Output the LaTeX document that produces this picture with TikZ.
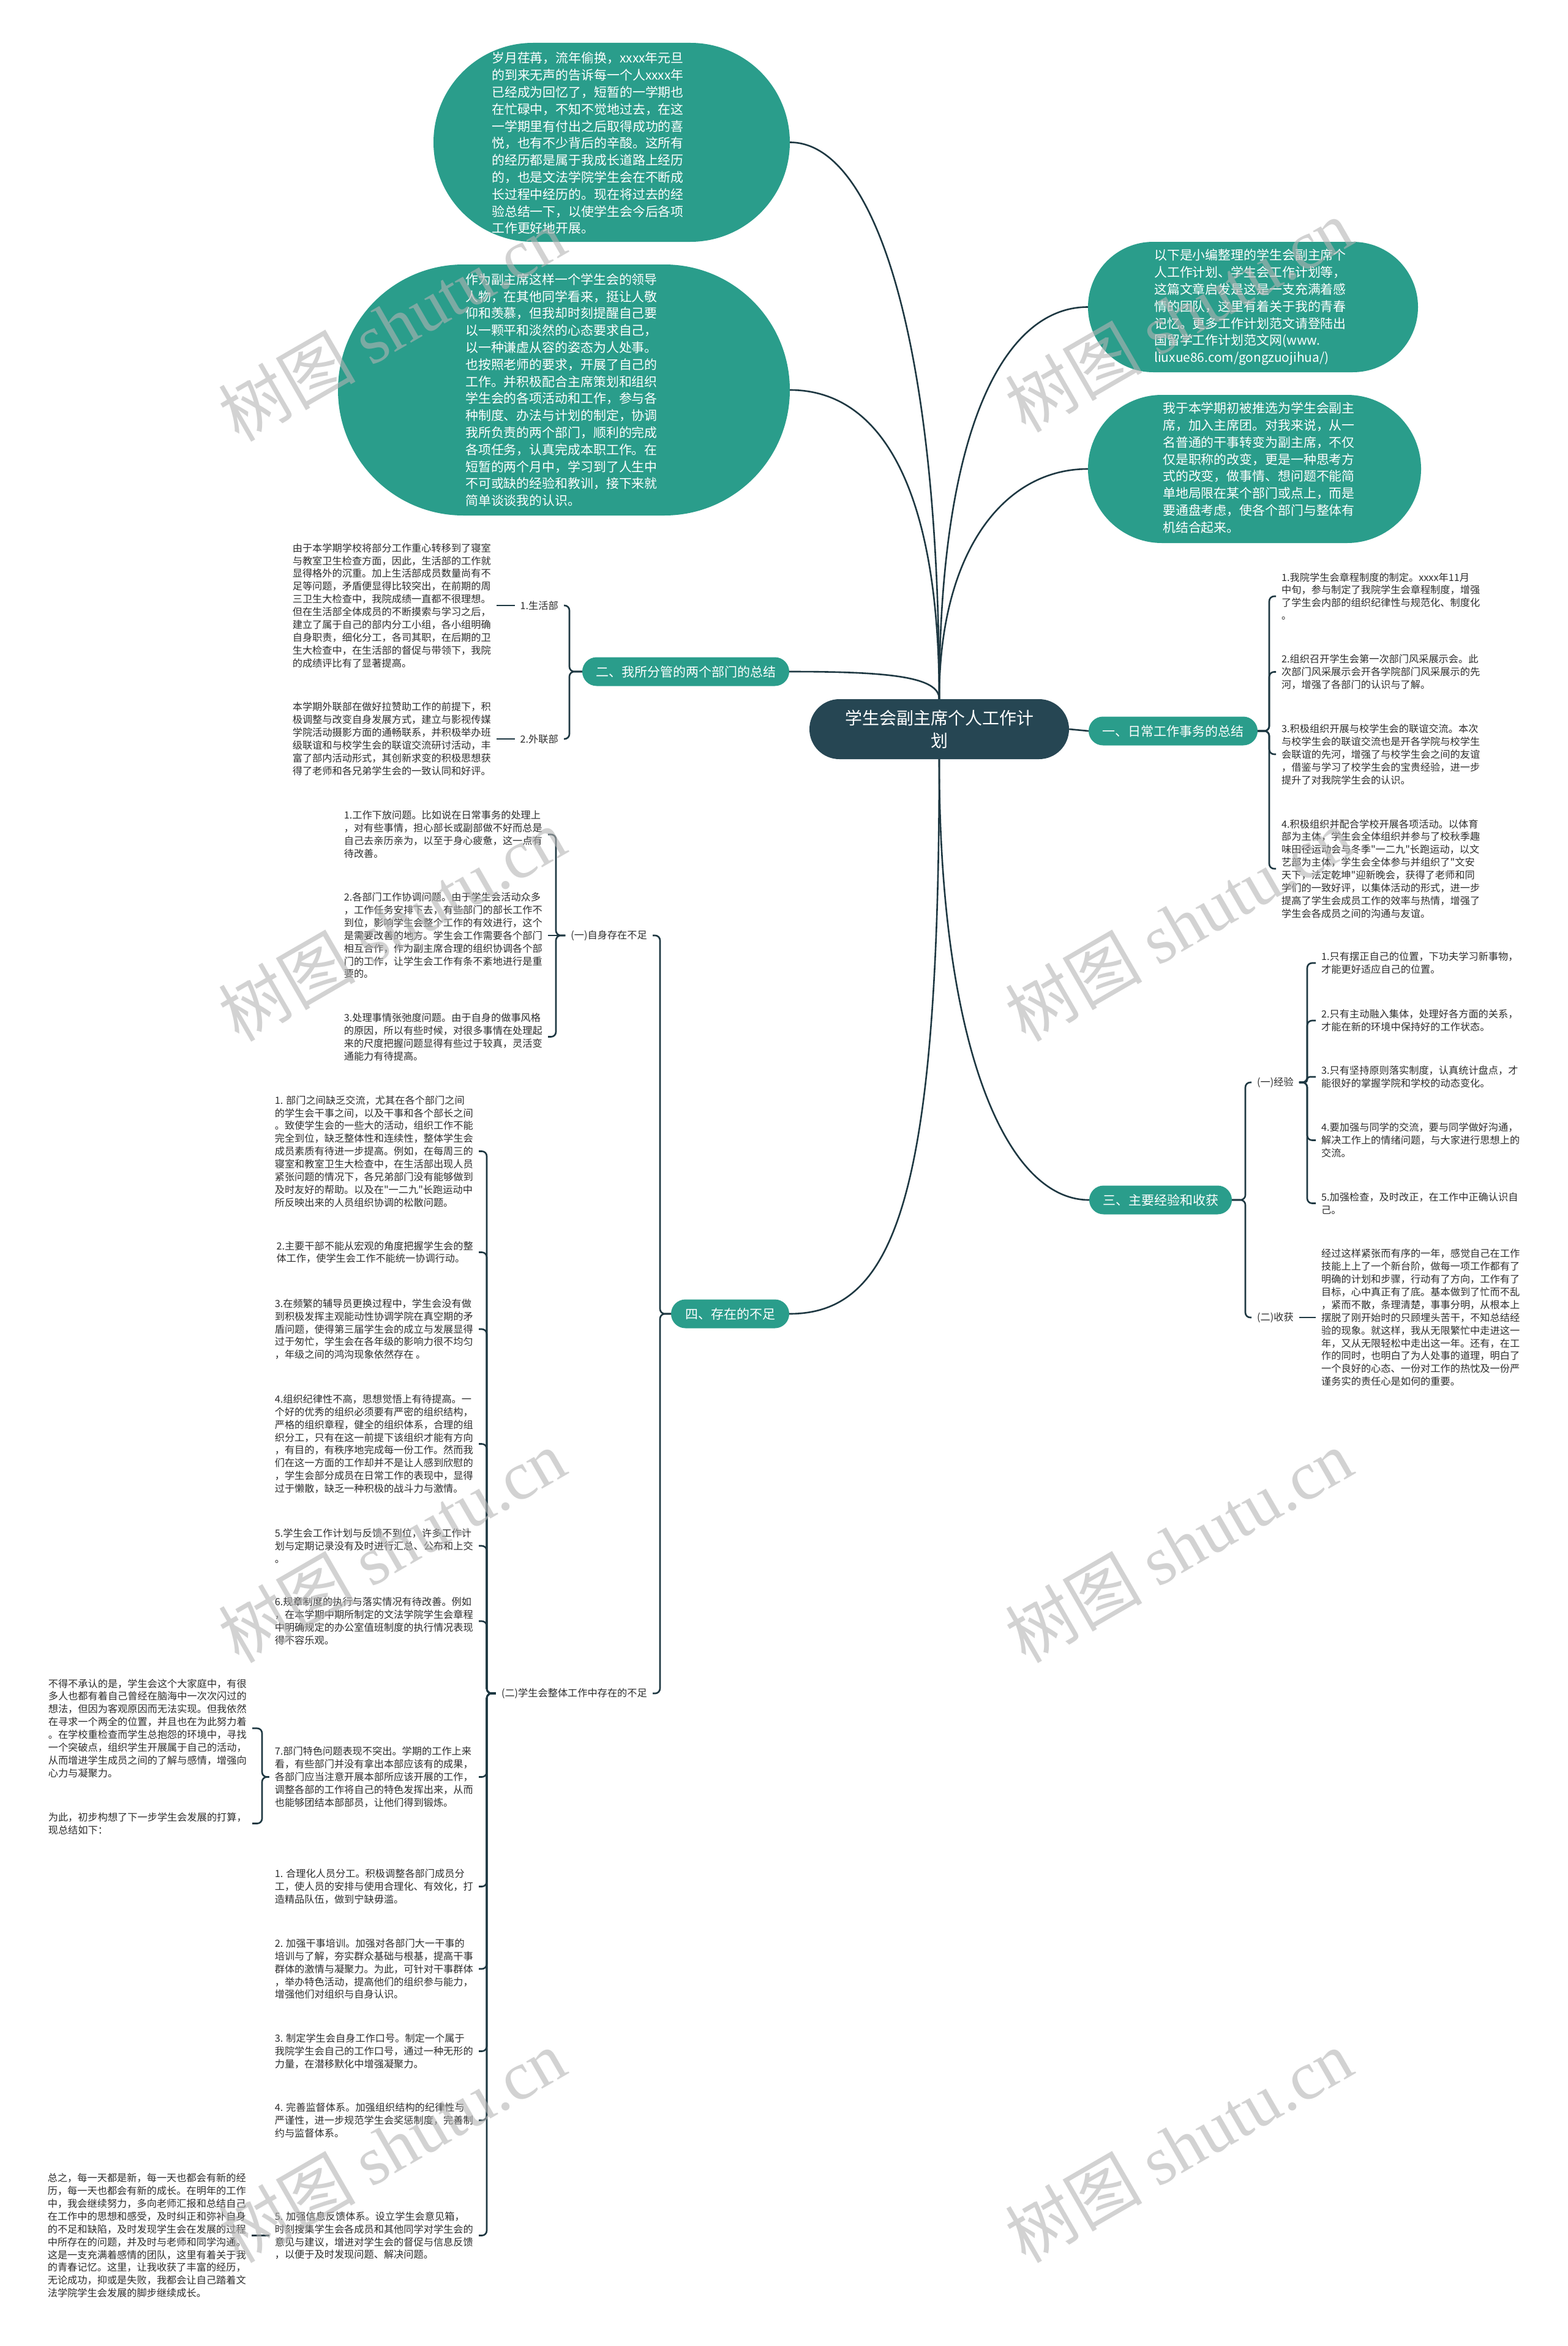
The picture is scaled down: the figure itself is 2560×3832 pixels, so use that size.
\documentclass[tikz,border=0pt]{standalone}
\usepackage{fontspec}
\newfontfamily\cjk{Noto Sans CJK SC}
\newfontfamily\wmserif{Liberation Serif}
\usetikzlibrary{shapes.misc}
\newcommand\myfs[2]{\fontsize{#1}{#2}\selectfont}
\definecolor{tealA}{RGB}{42,157,139}
\definecolor{darkA}{RGB}{38,70,83}
\definecolor{lineA}{RGB}{30,56,66}
\definecolor{textA}{RGB}{45,45,45}
\definecolor{wmA}{RGB}{180,180,180}
\tikzset{
  mcurve/.style={draw=lineA, line width=2.6pt},
  conn/.style={draw=lineA, line width=2.6pt, rounded corners=8pt},
  body/.style={font=\cjk\myfs{16.2}{20.9}, text=textA, align=left, inner xsep=9pt, inner ysep=0pt},
  lbl/.style={font=\cjk\myfs{16.2}{20.9}, text=textA, inner xsep=9pt, inner ysep=0pt},
  bubble/.style={rounded rectangle, fill=tealA, inner sep=0pt},
  btext/.style={font=\cjk\myfs{20.9}{27.8}, text=white, align=left, inner sep=0pt},
  brnode/.style={rounded rectangle, fill=tealA, text=white, font=\cjk\myfs{21}{25}, inner sep=0pt, minimum height=47pt},
  wm/.style={font=\cjk\myfs{112}{120}, text=wmA, opacity=0.6, rotate=30, inner sep=0pt}
}
\begin{document}
\begin{tikzpicture}[x=1pt,y=-1pt]
\useasboundingbox (0,0) rectangle (2560,3832);
\fill[white] (0,0) rectangle (2560,3832);

% ---------- bubbles ----------
\node[bubble, minimum width=582pt, minimum height=325pt] (b1) at (999,232.5) {};
\node[bubble, minimum width=738pt, minimum height=410pt] (b2) at (921,637) {};
\node[bubble, minimum width=539pt, minimum height=213pt] (b3) at (2046.5,501.5) {};
\node[bubble, minimum width=544pt, minimum height=242pt] (b4) at (2049,766) {};

\node[btext, anchor=west] (t1) at (803,234) {岁月荏苒，流年偷换，xxxx年元旦\\
的到来无声的告诉每一个人xxxx年\\
已经成为回忆了，短暂的一学期也\\
在忙碌中，不知不觉地过去，在这\\
一学期里有付出之后取得成功的喜\\
悦，也有不少背后的辛酸。这所有\\
的经历都是属于我成长道路上经历\\
的，也是文法学院学生会在不断成\\
长过程中经历的。现在将过去的经\\
验总结一下，以使学生会今后各项\\
工作更好地开展。};

\node[btext, anchor=west] (t2) at (760,637) {作为副主席这样一个学生会的领导\\
人物，在其他同学看来，挺让人敬\\
仰和羡慕，但我却时刻提醒自己要\\
以一颗平和淡然的心态要求自己，\\
以一种谦虚从容的姿态为人处事。\\
也按照老师的要求，开展了自己的\\
工作。并积极配合主席策划和组织\\
学生会的各项活动和工作，参与各\\
种制度、办法与计划的制定，协调\\
我所负责的两个部门，顺利的完成\\
各项任务，认真完成本职工作。在\\
短暂的两个月中，学习到了人生中\\
不可或缺的经验和教训，接下来就\\
简单谈谈我的认识。};

\node[btext, anchor=west] (t3) at (1885,502) {以下是小编整理的学生会副主席个\\
人工作计划、学生会工作计划等，\\
这篇文章启发是这是一支充满着感\\
情的团队，这里有着关于我的青春\\
记忆。更多工作计划范文请登陆出\\
国留学工作计划范文网(www.\\
liuxue86.com/gongzuojihua/)};

\node[btext, anchor=west] (t4) at (1899,764) {我于本学期初被推选为学生会副主\\
席，加入主席团。对我来说，从一\\
名普通的干事转变为副主席，不仅\\
仅是职称的改变，更是一种思考方\\
式的改变，做事情、想问题不能简\\
单地局限在某个部门或点上，而是\\
要通盘考虑，使各个部门与整体有\\
机结合起来。};

% ---------- center and branches ----------
\node[rounded rectangle, fill=darkA, text=white, inner sep=0pt, minimum width=424pt, minimum height=98pt, font=\cjk\myfs{28}{37}, align=center] (c) at (1534,1191) {学生会副主席个人工作计\\划};

\node[brnode, minimum width=276pt] (n1) at (1916,1194) {一、日常工作事务的总结};
\node[brnode, minimum width=338pt] (n2) at (1120,1097) {二、我所分管的两个部门的总结};
\node[brnode, minimum width=233pt] (n3) at (1895.5,1960) {三、主要经验和收获};
\node[brnode, minimum width=193pt] (n4) at (1192.5,2146) {四、存在的不足};

% ---------- branch 一 ----------
\node[body, anchor=west] (i1) at (2084,974) {1.我院学生会章程制度的制定。xxxx年11月\\
中旬，参与制定了我院学生会章程制度，增强\\
了学生会内部的组织纪律性与规范化、制度化\\
。};
\node[body, anchor=west] (i2) at (2084,1097.5) {2.组织召开学生会第一次部门风采展示会。此\\
次部门风采展示会开各学院部门风采展示的先\\
河，增强了各部门的认识与了解。};
\node[body, anchor=west] (i3) at (2084,1232) {3.积极组织开展与校学生会的联谊交流。本次\\
与校学生会的联谊交流也是开各学院与校学生\\
会联谊的先河，增强了与校学生会之间的友谊\\
，借鉴与学习了校学生会的宝贵经验，进一步\\
提升了对我院学生会的认识。};
\node[body, anchor=west] (i4) at (2084,1419) {4.积极组织并配合学校开展各项活动。以体育\\
部为主体，学生会全体组织并参与了校秋季趣\\
味田径运动会与冬季"一二九"长跑运动，以文\\
艺部为主体，学生会全体参与并组织了"文安\\
天下，法定乾坤"迎新晚会，获得了老师和同\\
学们的一致好评，以集体活动的形式，进一步\\
提高了学生会成员工作的效率与热情，增强了\\
学生会各成员之间的沟通与友谊。};

% ---------- branch 二 ----------
\node[lbl, anchor=east] (a1) at (921,989) {1.生活部};
\node[lbl, anchor=east] (a2) at (921,1207) {2.外联部};
\node[body, anchor=east] (at1) at (811,989) {由于本学期学校将部分工作重心转移到了寝室\\
与教室卫生检查方面，因此，生活部的工作就\\
显得格外的沉重。加上生活部成员数量尚有不\\
足等问题，矛盾便显得比较突出，在前期的周\\
三卫生大检查中，我院成绩一直都不很理想。\\
但在生活部全体成员的不断摸索与学习之后，\\
建立了属于自己的部内分工小组，各小组明确\\
自身职责，细化分工，各司其职，在后期的卫\\
生大检查中，在生活部的督促与带领下，我院\\
的成绩评比有了显著提高。};
\node[body, anchor=east] (at2) at (811,1207) {本学期外联部在做好拉赞助工作的前提下，积\\
极调整与改变自身发展方式，建立与影视传媒\\
学院活动摄影方面的通畅联系，并积极举办班\\
级联谊和与校学生会的联谊交流研讨活动，丰\\
富了部内活动形式，其创新求变的积极思想获\\
得了老师和各兄弟学生会的一致认同和好评。};

% ---------- branch 三 ----------
\node[lbl, anchor=west] (r1) at (2044,1768) {(一)经验};
\node[lbl, anchor=west] (r2) at (2044,2152) {(二)收获};
\node[body, anchor=west] (k1) at (2149,1573) {1.只有摆正自己的位置，下功夫学习新事物，\\
才能更好适应自己的位置。};
\node[body, anchor=west] (k2) at (2149,1667) {2.只有主动融入集体，处理好各方面的关系，\\
才能在新的环境中保持好的工作状态。};
\node[body, anchor=west] (k3) at (2149,1759) {3.只有坚持原则落实制度，认真统计盘点，才\\
能很好的掌握学院和学校的动态变化。};
\node[body, anchor=west] (k4) at (2149,1862.5) {4.要加强与同学的交流，要与同学做好沟通，\\
解决工作上的情绪问题，与大家进行思想上的\\
交流。};
\node[body, anchor=west] (k5) at (2149,1965.5) {5.加强检查，及时改正，在工作中正确认识自\\
己。};
\node[body, anchor=west] (q1) at (2149,2152) {经过这样紧张而有序的一年，感觉自己在工作\\
技能上上了一个新台阶，做每一项工作都有了\\
明确的计划和步骤，行动有了方向，工作有了\\
目标，心中真正有了底。基本做到了忙而不乱\\
，紧而不散，条理清楚，事事分明，从根本上\\
摆脱了刚开始时的只顾埋头苦干，不知总结经\\
验的现象。就这样，我从无限繁忙中走进这一\\
年，又从无限轻松中走出这一年。还有，在工\\
作的同时，也明白了为人处事的道理，明白了\\
一个良好的心态、一份对工作的热忱及一份严\\
谨务实的责任心是如何的重要。};

% ---------- branch 四 ----------
\node[lbl, anchor=east] (s1) at (1066,1528) {(一)自身存在不足};
\node[lbl, anchor=east] (s2) at (1066,2766) {(二)学生会整体工作中存在的不足};

\node[body, anchor=east] (e1) at (895,1363) {1.工作下放问题。比如说在日常事务的处理上\\
，对有些事情，担心部长或副部做不好而总是\\
自己去亲历亲为，以至于身心疲惫，这一点有\\
待改善。};
\node[body, anchor=east] (e2) at (895,1528) {2.各部门工作协调问题。由于学生会活动众多\\
，工作任务安排下去，有些部门的部长工作不\\
到位，影响学生会整个工作的有效进行，这个\\
是需要改善的地方。学生会工作需要各个部门\\
相互合作，作为副主席合理的组织协调各个部\\
门的工作，让学生会工作有条不紊地进行是重\\
要的。};
\node[body, anchor=east] (e3) at (895,1693.5) {3.处理事情张弛度问题。由于自身的做事风格\\
的原因，所以有些时候，对很多事情在处理起\\
来的尺度把握问题显得有些过于较真，灵活变\\
通能力有待提高。};

\node[body, anchor=east] (f1) at (782,1880.5) {1. 部门之间缺乏交流，尤其在各个部门之间\\
的学生会干事之间，以及干事和各个部长之间\\
。致使学生会的一些大的活动，组织工作不能\\
完全到位，缺乏整体性和连续性，整体学生会\\
成员素质有待进一步提高。例如，在每周三的\\
寝室和教室卫生大检查中，在生活部出现人员\\
紧张问题的情况下，各兄弟部门没有能够做到\\
及时友好的帮助。以及在"一二九"长跑运动中\\
所反映出来的人员组织协调的松散问题。};
\node[body, anchor=east] (f2) at (782,2045.5) {2.主要干部不能从宏观的角度把握学生会的整\\
体工作，使学生会工作不能统一协调行动。};
\node[body, anchor=east] (f3) at (782,2171) {3.在频繁的辅导员更换过程中，学生会没有做\\
到积极发挥主观能动性协调学院在真空期的矛\\
盾问题，使得第三届学生会的成立与发展显得\\
过于匆忙，学生会在各年级的影响力很不均匀\\
，年级之间的鸿沟现象依然存在 。};
\node[body, anchor=east] (f4) at (782,2358.5) {4.组织纪律性不高，思想觉悟上有待提高。一\\
个好的优秀的组织必须要有严密的组织结构，\\
严格的组织章程，健全的组织体系，合理的组\\
织分工，只有在这一前提下该组织才能有方向\\
，有目的，有秩序地完成每一份工作。然而我\\
们在这一方面的工作却并不是让人感到欣慰的\\
，学生会部分成员在日常工作的表现中，显得\\
过于懒散，缺乏一种积极的战斗力与激情。};
\node[body, anchor=east] (f5) at (782,2525) {5.学生会工作计划与反馈不到位，许多工作计\\
划与定期记录没有及时进行汇总、公布和上交\\
。};
\node[body, anchor=east] (f6) at (782,2648) {6.规章制度的执行与落实情况有待改善。例如\\
，在本学期中期所制定的文法学院学生会章程\\
中明确规定的办公室值班制度的执行情况表现\\
得不容乐观。};
\node[body, anchor=east] (f7) at (782,2902.5) {7.部门特色问题表现不突出。学期的工作上来\\
看，有些部门并没有拿出本部应该有的成果，\\
各部门应当注意开展本部所应该开展的工作，\\
调整各部的工作将自己的特色发挥出来，从而\\
也能够团结本部部员，让他们得到锻炼。};

\node[body, anchor=east] (g1) at (412,2823) {不得不承认的是，学生会这个大家庭中，有很\\
多人也都有着自己曾经在脑海中一次次闪过的\\
想法，但因为客观原因而无法实现。但我依然\\
在寻求一个两全的位置，并且也在为此努力着\\
。在学校重检查而学生总抱怨的环境中，寻找\\
一个突破点，组织学生开展属于自己的活动，\\
从而增进学生成员之间的了解与感情，增强向\\
心力与凝聚力。};
\node[body, anchor=east] (g2) at (412,2978.5) {为此，初步构想了下一步学生会发展的打算，\\
现总结如下：};

\node[body, anchor=east] (p1) at (782,3081.5) {1. 合理化人员分工。积极调整各部门成员分\\
工，使人员的安排与使用合理化、有效化，打\\
造精品队伍，做到宁缺毋滥。};
\node[body, anchor=east] (p2) at (782,3216) {2. 加强干事培训。加强对各部门大一干事的\\
培训与了解，夯实群众基础与根基，提高干事\\
群体的激情与凝聚力。为此，可针对干事群体\\
，举办特色活动，提高他们的组织参与能力，\\
增强他们对组织与自身认识。};
\node[body, anchor=east] (p3) at (782,3350.5) {3. 制定学生会自身工作口号。制定一个属于\\
我院学生会自己的工作口号，通过一种无形的\\
力量，在潜移默化中增强凝聚力。};
\node[body, anchor=east] (p4) at (782,3463.5) {4. 完善监督体系。加强组织结构的纪律性与\\
严谨性，进一步规范学生会奖惩制度，完善制\\
约与监督体系。};
\node[body, anchor=east] (p5) at (782,3651.5) {5. 加强信息反馈体系。设立学生会意见箱，\\
时刻搜集学生会各成员和其他同学对学生会的\\
意见与建议，增进对学生会的督促与信息反馈\\
，以便于及时发现问题、解决问题。};
\node[body, anchor=east] (h1) at (411,3651.5) {总之，每一天都是新，每一天也都会有新的经\\
历，每一天也都会有新的成长。在明年的工作\\
中，我会继续努力，多向老师汇报和总结自己\\
在工作中的思想和感受，及时纠正和弥补自身\\
的不足和缺陷，及时发现学生会在发展的过程\\
中所存在的问题，并及时与老师和同学沟通。\\
这是一支充满着感情的团队，这里有着关于我\\
的青春记忆。这里，让我收获了丰富的经历，\\
无论成功，抑或是失败，我都会让自己踏着文\\
法学院学生会发展的脚步继续成长。};

% ---------- main curves ----------
\draw[mcurve] (c.north) .. controls (1534,560) and (1430,232.5) .. (b1.east);
\draw[mcurve] (c.north) .. controls (1534,800) and (1440,637) .. (b2.east);
\draw[mcurve] (c.north) .. controls (1534,700) and (1640,501.5) .. (b3.west);
\draw[mcurve] (c.north) .. controls (1534,900) and (1640,766) .. (b4.west);
\draw[mcurve] (n2.east) .. controls (1450,1097) and (1534,1105) .. (c.north);
\draw[mcurve] (c.east) -- (n1.west);
\draw[mcurve] (c.south) .. controls (1534,1700) and (1640,1960) .. (n3.west);
\draw[mcurve] (c.south) .. controls (1534,1960) and (1460,2146) .. (n4.east);

% ---------- brackets ----------
\foreach \t in {i1,i2,i3,i4} \draw[conn] (n1.east) -- (2073,1194) |- (\t.west);
\draw[conn] (n2.west) -- (930,1097) |- (a1.east);
\draw[conn] (n2.west) -- (930,1097) |- (a2.east);
\draw[conn] (a1.west) -- (at1.east);
\draw[conn] (a2.west) -- (at2.east);

\draw[conn] (n3.east) -- (2034,1960) |- (r1.west);
\draw[conn] (n3.east) -- (2034,1960) |- (r2.west);
\foreach \t in {k1,k2,k4,k5} \draw[conn] (r1.east) -- (2135,1768) |- (\t.west);
\draw[conn, rounded corners=4pt] (r1.east) -- (2135,1768) |- (k3.west);
\draw[conn] (r2.east) -- (q1.west);

\draw[conn] (n4.west) -- (1078,2146) |- (s1.east);
\draw[conn] (n4.west) -- (1078,2146) |- (s2.east);
\draw[conn] (s1.west) -- (908,1528) |- (e1.east);
\draw[conn] (s1.west) -- (e2.east);
\draw[conn] (s1.west) -- (908,1528) |- (e3.east);
\foreach \t in {f1,f2,f3,f4,f5,f6,f7,p1,p2,p3,p4,p5} \draw[conn] (s2.west) -- (795,2766) |- (\t.east);
\draw[conn] (f7.west) -- (428,2902.5) |- (g1.east);
\draw[conn] (f7.west) -- (428,2902.5) |- (g2.east);
\draw[conn] (p5.west) -- (h1.east);

% ---------- watermarks ----------
\node[wm] (w1) at (640,530) {树图 {\wmserif shutu.cn}};
\node[wm] (w2) at (1925,515) {树图 {\wmserif shutu.cn}};
\node[wm] (w3) at (640,1510) {树图 {\wmserif shutu.cn}};
\node[wm] (w4) at (1925,1510) {树图 {\wmserif shutu.cn}};
\node[wm] (w5) at (640,2525) {树图 {\wmserif shutu.cn}};
\node[wm] (w6) at (1925,2525) {树图 {\wmserif shutu.cn}};
\node[wm] (w7) at (640,3505) {树图 {\wmserif shutu.cn}};
\node[wm] (w8) at (1925,3505) {树图 {\wmserif shutu.cn}};
\end{tikzpicture}
\end{document}
